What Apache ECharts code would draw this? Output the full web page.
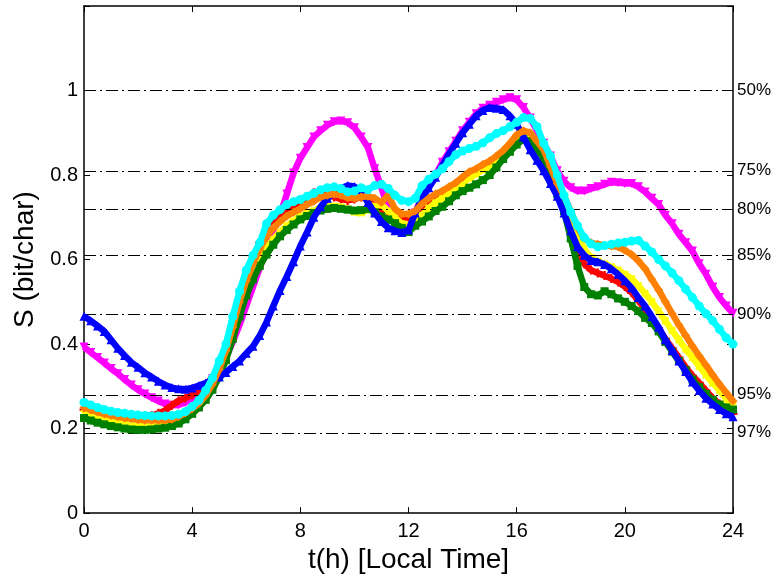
<!DOCTYPE html>
<html><head><meta charset="utf-8">
<script src="https://cdn.jsdelivr.net/npm/echarts@6/dist/echarts.min.js"></script>
<style>html,body{margin:0;padding:0;background:#fff}#c{width:775px;height:579px}</style>
</head><body><div id="c"></div>
<script>
const hours = [0,0.25,0.5,0.75,1,1.25,1.5,1.75,2,2.25,2.5,2.75,3,3.25,3.5,3.75,4,4.25,4.5,4.75,5,5.25,5.5,5.75,6,6.25,6.5,6.75,7,7.25,7.5,7.75,8,8.25,8.5,8.75,9,9.25,9.5,9.75,10,10.25,10.5,10.75,11,11.25,11.5,11.75,12,12.25,12.5,12.75,13,13.25,13.5,13.75,14,14.25,14.5,14.75,15,15.25,15.5,15.75,16,16.25,16.5,16.75,17,17.25,17.5,17.75,18,18.25,18.5,18.75,19,19.25,19.5,19.75,20,20.25,20.5,20.75,21,21.25,21.5,21.75,22,22.25,22.5,22.75,23,23.25,23.5,23.75,24];

const blueS = [0.466,0.455,0.443,0.43,0.41,0.39,0.373,0.357,0.345,0.332,0.322,0.312,0.303,0.297,0.294,0.293,0.296,0.302,0.308,0.315,0.322,0.333,0.347,0.36,0.378,0.395,0.42,0.452,0.49,0.527,0.56,0.595,0.632,0.665,0.7,0.725,0.745,0.757,0.768,0.775,0.773,0.76,0.735,0.71,0.69,0.675,0.668,0.664,0.67,0.71,0.745,0.77,0.795,0.823,0.85,0.875,0.9,0.92,0.94,0.953,0.96,0.958,0.955,0.94,0.92,0.89,0.86,0.835,0.81,0.78,0.75,0.71,0.668,0.63,0.61,0.598,0.595,0.588,0.578,0.565,0.55,0.533,0.51,0.49,0.465,0.44,0.41,0.385,0.36,0.335,0.31,0.29,0.272,0.258,0.245,0.235,0.228];

const magentaS = [0.393,0.38,0.368,0.355,0.342,0.33,0.316,0.303,0.292,0.282,0.273,0.265,0.258,0.255,0.256,0.262,0.272,0.285,0.3,0.318,0.34,0.368,0.405,0.445,0.49,0.535,0.58,0.625,0.665,0.705,0.755,0.805,0.84,0.865,0.89,0.905,0.918,0.926,0.928,0.924,0.912,0.89,0.865,0.815,0.77,0.72,0.685,0.672,0.675,0.71,0.75,0.775,0.8,0.83,0.855,0.88,0.905,0.925,0.945,0.958,0.965,0.972,0.978,0.983,0.978,0.96,0.935,0.905,0.875,0.845,0.81,0.785,0.77,0.762,0.762,0.768,0.772,0.778,0.783,0.782,0.78,0.78,0.772,0.76,0.745,0.73,0.705,0.685,0.66,0.64,0.62,0.59,0.565,0.535,0.51,0.49,0.473];

const redS = [0.245,0.24,0.236,0.233,0.231,0.229,0.228,0.228,0.228,0.229,0.231,0.236,0.243,0.255,0.266,0.272,0.28,0.29,0.302,0.322,0.35,0.39,0.445,0.505,0.56,0.605,0.64,0.67,0.69,0.705,0.717,0.728,0.738,0.748,0.758,0.76,0.755,0.748,0.743,0.74,0.743,0.748,0.744,0.735,0.72,0.712,0.705,0.698,0.7,0.71,0.725,0.74,0.75,0.758,0.768,0.778,0.788,0.8,0.81,0.82,0.828,0.84,0.852,0.867,0.885,0.895,0.892,0.872,0.85,0.81,0.765,0.72,0.675,0.625,0.59,0.575,0.568,0.562,0.555,0.547,0.536,0.522,0.503,0.483,0.46,0.437,0.412,0.39,0.368,0.345,0.325,0.308,0.29,0.272,0.258,0.245,0.235];

const yellowS = [0.235,0.229,0.224,0.22,0.216,0.213,0.21,0.207,0.205,0.204,0.204,0.205,0.207,0.21,0.216,0.226,0.238,0.252,0.27,0.295,0.327,0.372,0.428,0.485,0.535,0.572,0.602,0.628,0.648,0.665,0.68,0.692,0.702,0.71,0.716,0.722,0.726,0.727,0.725,0.72,0.712,0.71,0.718,0.727,0.73,0.715,0.7,0.685,0.682,0.69,0.705,0.722,0.735,0.745,0.755,0.768,0.78,0.792,0.802,0.812,0.82,0.832,0.845,0.86,0.878,0.89,0.895,0.88,0.86,0.83,0.79,0.745,0.7,0.655,0.625,0.605,0.596,0.59,0.583,0.575,0.565,0.555,0.538,0.52,0.5,0.478,0.455,0.432,0.41,0.388,0.368,0.347,0.327,0.308,0.29,0.27,0.253];

const greenS = [0.225,0.219,0.214,0.21,0.206,0.203,0.2,0.198,0.197,0.197,0.198,0.2,0.202,0.206,0.212,0.222,0.235,0.25,0.268,0.292,0.322,0.362,0.412,0.465,0.515,0.553,0.585,0.612,0.635,0.655,0.67,0.683,0.695,0.703,0.71,0.716,0.72,0.722,0.72,0.718,0.716,0.717,0.72,0.712,0.702,0.695,0.686,0.675,0.665,0.68,0.69,0.702,0.715,0.725,0.738,0.752,0.762,0.77,0.778,0.788,0.8,0.818,0.838,0.855,0.872,0.885,0.88,0.86,0.84,0.8,0.755,0.715,0.65,0.585,0.535,0.518,0.515,0.525,0.518,0.508,0.5,0.49,0.478,0.462,0.45,0.43,0.405,0.382,0.36,0.338,0.316,0.298,0.282,0.268,0.257,0.25,0.245];

const orangeS = [0.25,0.244,0.239,0.235,0.231,0.228,0.225,0.223,0.221,0.22,0.22,0.22,0.22,0.222,0.228,0.237,0.247,0.26,0.278,0.305,0.34,0.385,0.44,0.5,0.55,0.59,0.625,0.655,0.675,0.69,0.703,0.712,0.72,0.73,0.738,0.748,0.752,0.755,0.752,0.746,0.745,0.748,0.75,0.745,0.735,0.752,0.72,0.708,0.708,0.715,0.732,0.745,0.755,0.762,0.772,0.782,0.795,0.808,0.815,0.825,0.833,0.845,0.858,0.875,0.895,0.905,0.9,0.88,0.86,0.82,0.78,0.75,0.715,0.675,0.65,0.64,0.636,0.634,0.632,0.63,0.622,0.612,0.597,0.578,0.553,0.528,0.5,0.472,0.445,0.42,0.395,0.372,0.35,0.327,0.305,0.285,0.265];

const cyanS = [0.262,0.256,0.25,0.245,0.241,0.238,0.236,0.234,0.232,0.231,0.23,0.23,0.23,0.231,0.234,0.24,0.252,0.267,0.29,0.32,0.36,0.4,0.465,0.525,0.575,0.61,0.64,0.685,0.705,0.718,0.73,0.737,0.742,0.75,0.757,0.765,0.77,0.772,0.768,0.76,0.762,0.77,0.765,0.775,0.778,0.768,0.752,0.74,0.737,0.745,0.775,0.79,0.802,0.815,0.832,0.848,0.857,0.863,0.868,0.876,0.888,0.898,0.905,0.914,0.925,0.936,0.934,0.915,0.875,0.845,0.8,0.752,0.712,0.68,0.652,0.637,0.63,0.633,0.636,0.639,0.641,0.644,0.645,0.632,0.618,0.6,0.585,0.568,0.55,0.53,0.51,0.49,0.472,0.455,0.435,0.415,0.4];

const refValues = [1.0, 0.809, 0.72, 0.609, 0.466, 0.284, 0.192];
const refLabels = ['50%', '75%', '80%', '85%', '90%', '95%', '97%'];

const FONT = 'Liberation Sans, Arial, Helvetica, sans-serif';
const plusPath = 'path://M3,0H5V3H8V5H5V8H3V5H0V3H3Z';

function mk(name, values, color, symbol, size, z, rotate) {
  return {
    name: name, type: 'line', data: hours.map((h, i) => [h, values[i]]),
    symbol: symbol, symbolSize: size, symbolRotate: rotate || 0,
    showSymbol: true, showAllSymbol: true,
    itemStyle: { color: color, borderWidth: 0 },
    lineStyle: { color: color, width: 6.5 },
    z: z, animation: false, silent: true
  };
}

const chart = echarts.init(document.getElementById('c'), null, { renderer: 'canvas' });
const axisCommon = {
  type: 'value', min: 0, max: 24, interval: 4,
  axisLine: { show: true, onZero: false, lineStyle: { color: '#000', width: 1.5 } },
  axisTick: { show: true, inside: true, length: 6, lineStyle: { color: '#000', width: 1 } },
  splitLine: { show: false }
};
chart.setOption({
  backgroundColor: '#fff',
  animation: false,
  grid: { left: 84, right: 42, top: 6, bottom: 61, containLabel: false },
  xAxis: [
    Object.assign({}, axisCommon, {
      position: 'bottom',
      axisLabel: { color: '#000', fontSize: 20, fontFamily: FONT, margin: 8 },
      name: 't(h) [Local Time]', nameLocation: 'middle', nameGap: 32,
      nameTextStyle: { color: '#000', fontSize: 28, fontFamily: FONT }
    }),
    Object.assign({}, axisCommon, { position: 'top', axisLabel: { show: false } })
  ],
  yAxis: [
    {
      type: 'value', min: 0, max: 1.2, interval: 0.2, position: 'left',
      axisLine: { show: true, onZero: false, lineStyle: { color: '#000', width: 1.5 } },
      axisTick: { show: true, inside: true, length: 6, lineStyle: { color: '#000' } },
      splitLine: { show: false },
      axisLabel: { color: '#000', fontSize: 20, fontFamily: FONT, margin: 6,
        formatter: v => (v > 1.1 ? '' : String(+v.toFixed(1))) },
      name: 'S (bit/char)', nameLocation: 'middle', nameGap: 42,
      nameTextStyle: { color: '#000', fontSize: 28, fontFamily: FONT }
    },
    {
      type: 'value', min: 0, max: 1.2, interval: 0.2, position: 'right',
      axisLine: { show: true, onZero: false, lineStyle: { color: '#000', width: 1.5 } },
      axisTick: { show: true, inside: true, length: 6, lineStyle: { color: '#000' } },
      splitLine: { show: false }, axisLabel: { show: false }
    }
  ],
  series: [
    {
      type: 'line', data: [], z: 1, silent: true,
      markLine: {
        silent: true, symbol: 'none', animation: false,
        lineStyle: { color: '#000', width: 1, type: [12, 4, 2, 4] },
        label: { show: true, position: 'end', distance: 4, color: '#000', fontSize: 17, fontFamily: FONT,
          formatter: p => p.name },
        data: refValues.map((v, i) => ({ yAxis: v, name: refLabels[i] }))
      }
    },
    mk('magenta', magentaS, '#ff00ff', 'triangle', 9, 2, 180),
    mk('red', redS, '#ff0000', plusPath, 9, 3),
    mk('yellow', yellowS, '#ffff00', plusPath, 9, 4, 45),
    mk('green', greenS, '#008000', 'rect', 8, 5),
    mk('blue', blueS, '#0000ff', 'triangle', 9, 6),
    mk('orange', orangeS, '#ff8000', 'diamond', 9, 7),
    mk('cyan', cyanS, '#00ffff', 'circle', 9, 8)
  ]
});
</script>
</body></html>
